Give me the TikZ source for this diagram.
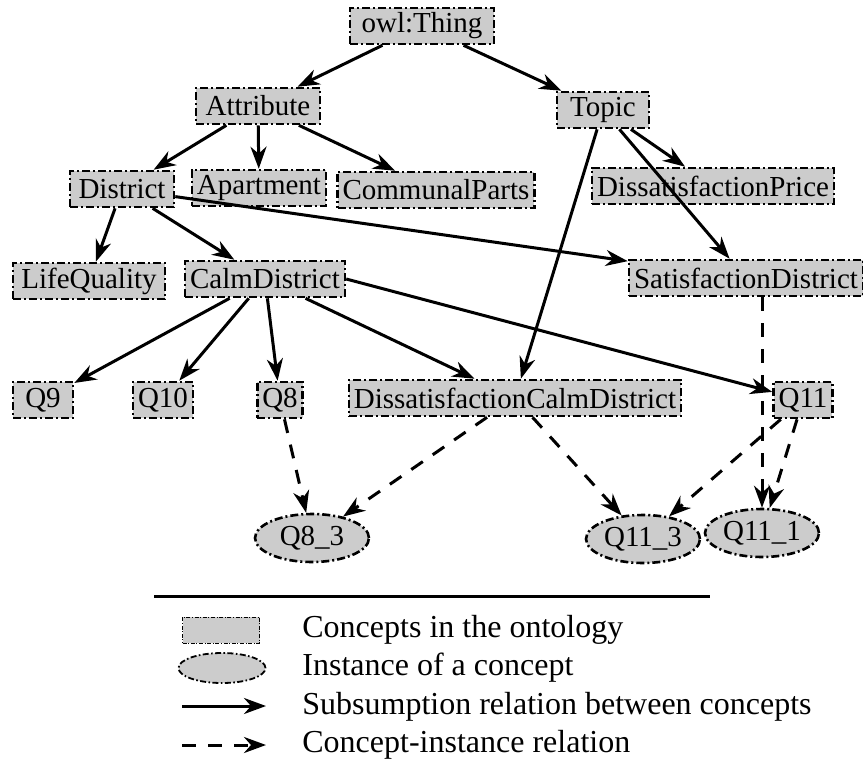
\documentclass[tikz,border=0pt]{standalone}
\usepackage{fontspec}
\setmainfont{Liberation Serif}
\usetikzlibrary{arrows.meta,shapes.geometric}
\definecolor{conceptgray}{RGB}{204,204,204}

\begin{document}
\begin{tikzpicture}[
    x=0.5pt, y=-0.5pt,
    txt/.style={font=\fontsize{14.5}{16}\selectfont},
    dashdot/.style={line width=1.3pt, dash pattern=on 4pt off 1.5pt on 1pt off 1.5pt},
    concept/.style={draw, fill=conceptgray, dashdot, txt, inner xsep=2.5pt, inner ysep=0pt, minimum height=18pt},
    inst/.style={ellipse, draw, fill=conceptgray, dashdot, txt, inner sep=0pt, minimum width=57pt, minimum height=24pt},
    sub/.style={-{Stealth[length=11pt, width=8pt, inset=3.5pt]}, line width=1.5pt},
    ins/.style={sub, dash pattern=on 7pt off 6pt},
    lbl/.style={font=\fontsize{16}{18}\selectfont, anchor=west, inner sep=0pt}
]
\useasboundingbox (0,0) rectangle (863,778);

% concepts
\node[concept, minimum width=72pt] (thing) at (422,26) {owl:Thing};
\node[concept, minimum width=62pt] (attr) at (258,106) {Attribute};
\node[concept, minimum width=46pt] (topic) at (603,110) {Topic};
\node[concept, minimum width=52pt] (dist) at (122,189) {District};
\node[concept] (apt) at (259,188) {Apartment};
\node[concept] (comm) at (436,190) {CommunalParts};
\node[concept] (dprice) at (713,186) {DissatisfactionPrice};
\node[concept, minimum width=76pt] (life) at (89,281) {LifeQuality};
\node[concept] (calm) at (265,279) {CalmDistrict};
\node[concept] (sdist) at (746,278) {SatisfactionDistrict};
\node[concept, minimum width=30pt] (q9) at (43,400) {Q9};
\node[concept] (q10) at (163,400) {Q10};
\node[concept] (q8) at (280,400) {Q8};
\node[concept] (dcd) at (515,398) {DissatisfactionCalmDistrict};
\node[concept] (q11) at (803,400) {Q11};

% instances
\node[inst] (q83) at (312,538) {Q8\_3};
\node[inst] (q113) at (643,539) {Q11\_3};
\node[inst] (q111) at (762,533) {Q11\_1};

% subsumption
\draw[sub] (thing) -- (attr);
\draw[sub] (thing) -- (topic);
\draw[sub] (attr) -- (dist);
\draw[sub] (attr) -- (apt);
\draw[sub] (attr) -- (comm);
\draw[sub] (topic) -- (dprice);
\draw[sub] (topic) -- (sdist);
\draw[sub] (topic) -- (dcd);
\draw[sub] (dist) -- (life);
\draw[sub] (dist) -- (calm);
\draw[sub] (dist) -- (sdist);
\draw[sub] (calm) -- (q9);
\draw[sub] (calm) -- (q10);
\draw[sub] (calm) -- (q8);
\draw[sub] (calm) -- (dcd);
\draw[sub] (calm.east) -- (q11);

% concept-instance
\draw[ins] (q8) -- (q83);
\draw[ins] (dcd) -- (q83);
\draw[ins] (dcd) -- (q113);
\draw[ins] (q11) -- (q113);
\draw[ins] (q11) -- (q111);
\draw[ins] (sdist.south -| q111) -- (q111);

% legend
\coordinate (rulea) at (154,596);
\coordinate (ruleb) at (710,596);
\draw[line width=1.5pt] (rulea) -- (ruleb);
\node[draw, fill=conceptgray, line width=0.5pt, dash pattern=on 2pt off 0.8pt on 0.5pt off 0.8pt,
      minimum width=38.5pt, minimum height=13pt, inner sep=0pt] (keybox) at (221,630) {};
\node[ellipse, draw, fill=conceptgray, line width=0.9pt, dash pattern=on 3pt off 1.2pt on 0.8pt off 1.2pt,
      minimum width=43.5pt, minimum height=15pt, inner sep=0pt] (keyell) at (222,668) {};
\coordinate (suba) at (182,706);
\coordinate (subb) at (266,706);
\coordinate (insa) at (182,745);
\coordinate (insb) at (266,745);
\draw[sub] (suba) -- (subb);
\draw[ins, dash pattern=on 7pt off 6pt] (insa) -- (insb);
\node[lbl] (lbla) at (302,630) {Concepts in the ontology};
\node[lbl] (lblb) at (302,668) {Instance of a concept};
\node[lbl] (lblc) at (302,707) {Subsumption relation between concepts};
\node[lbl] (lbld) at (302,745) {Concept-instance relation};
\end{tikzpicture}
\end{document}
